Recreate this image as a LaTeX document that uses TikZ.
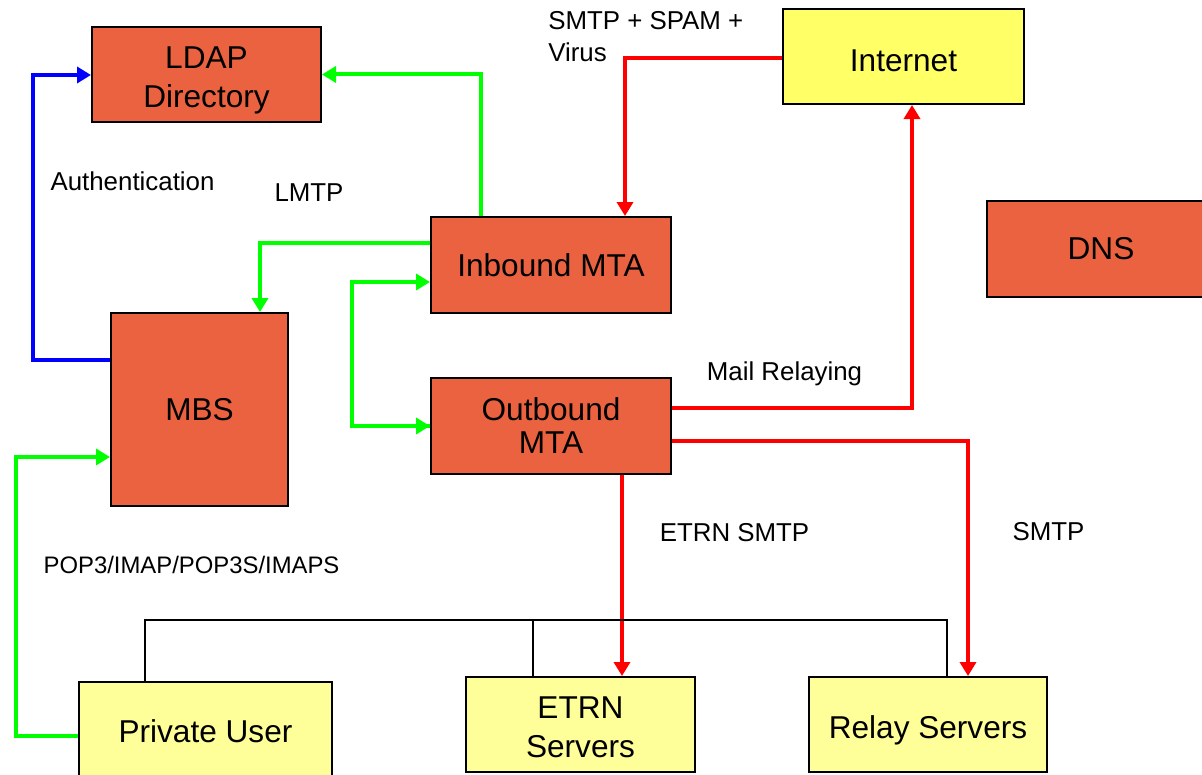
\documentclass[tikz,border=0pt]{standalone}
\usepackage{fontspec}
\setmainfont{Liberation Sans}
\usetikzlibrary{arrows.meta}

\definecolor{boxorange}{RGB}{234,98,64}
\definecolor{inetyellow}{RGB}{255,255,102}
\definecolor{hostyellow}{RGB}{255,255,153}

\begin{document}
\begin{tikzpicture}[x=0.75pt,y=0.75pt,yscale=-1,xscale=1,
  box/.style={draw=black, line width=1.5pt, inner sep=0pt, align=center,
    font=\fontsize{23.7}{29.3}\selectfont},
  srvbox/.style={box, fill=boxorange},
  inetbox/.style={box, fill=inetyellow},
  hostbox/.style={box, fill=hostyellow},
  lbl/.style={inner sep=0.75pt, font=\fontsize{19.4}{24}\selectfont},
  tip/.style={-{Triangle[length=10.5pt,width=12pt]}},
  greenline/.style={color={rgb, 255:red, 0; green, 255; blue, 0 }, line width=3pt},
  redline/.style={color={rgb, 255:red, 255; green, 0; blue, 0 }, line width=3pt},
  blueline/.style={color={rgb, 255:red, 0; green, 0; blue, 255 }, line width=3pt},
  busline/.style={black, line width=0.9pt}]
\useasboundingbox (0,0) rectangle (1202,774);

%Shape: Rectangle
\draw (206.5,74.5) node [srvbox, minimum width=171.75pt, minimum height=71.25pt, text height=55pt] (ldap) {LDAP\\Directory};
%Shape: Rectangle
\draw (903.5,56.5) node [inetbox, minimum width=180.75pt, minimum height=71.25pt, text height=22pt] (inet) {Internet};
%Shape: Rectangle
\draw (551,265) node [srvbox, minimum width=180pt, minimum height=72pt] (inb) {Inbound MTA};
%Shape: Rectangle
\draw (1101,249) node [srvbox, minimum width=171pt, minimum height=72pt] (dns) {DNS};
%Shape: Rectangle
\draw (199.5,409.5) node [srvbox, minimum width=132.75pt, minimum height=144.75pt] (mbs) {MBS};
%Shape: Rectangle
\draw (551,426) node [srvbox, minimum width=180pt, minimum height=72pt, font=\fontsize{23.7}{24.8}\selectfont] (outb) {Outbound\\MTA};
%Shape: Rectangle
\draw (205.5,729.5) node [hostbox, minimum width=189.75pt, minimum height=72pt, text height=19.8pt, text depth=0pt] (puser) {Private User};
%Shape: Rectangle
\draw (580.5,724.5) node [hostbox, minimum width=171.75pt, minimum height=71.25pt, text height=50pt] (etrn) {ETRN\\Servers};
%Shape: Rectangle
\draw (928,724.5) node [hostbox, minimum width=178.5pt, minimum height=71.25pt, text height=20.9pt, text depth=0pt] (relay) {Relay Servers};

%Straight Lines
\draw [blueline, tip] (mbs.west |- 0,360) -| (33,75) -- (ldap.west |- 0,75);
%Straight Lines
\draw [greenline, tip] (inb.north -| 481,0) |- (ldap.east);
%Straight Lines
\draw [greenline, tip] (inb.west |- 0,243) -| (mbs.north -| 260,0);
%Straight Lines
\draw [greenline, tip] (outb.west) -| (352,282) -- (inb.west |- 0,282);
\draw [greenline, tip] (352,426) -- (outb.west);
%Straight Lines
\draw [greenline, tip] (puser.west |- 0,736) -| (16,457) -- (mbs.west |- 0,457);
%Straight Lines
\draw [redline, tip] (inet.west |- 0,58) -| (inb.north -| 625,0);
%Straight Lines
\draw [redline, tip] (outb.east |- 0,408) -| (inet.south -| 912,0);
%Straight Lines
\draw [redline, tip] (outb.east |- 0,441) -| (relay.north -| 968,0);
%Straight Lines
\draw [redline, tip] (outb.south -| 622,0) -- (etrn.north -| 622,0);
%Straight Lines
\draw [busline] (puser.north -| 145,0) |- (947,620) -- (relay.north -| 947,0);
\draw [busline] (etrn.north -| 533,0) -- (533,620);

% Text Node
\draw (547,37) node [lbl, anchor=west, align=left] (virus) {SMTP + SPAM +\\Virus};
% Text Node
\draw (132.5,181) node [lbl] (auth) {Authentication};
% Text Node
\draw (309,193) node [lbl] (lmtp) {LMTP};
% Text Node
\draw (784.5,374) node [lbl] (relaying) {Mail Relaying};
% Text Node
\draw (734.5,533) node [lbl] (etrnsmtp) {ETRN SMTP};
% Text Node
\draw (1048.5,532) node [lbl] (smtp) {SMTP};
% Text Node
\draw (191.5,565) node [lbl, font=\fontsize{17.9}{22}\selectfont] (pop) {POP3/IMAP/POP3S/IMAPS};

\end{tikzpicture}
\end{document}
